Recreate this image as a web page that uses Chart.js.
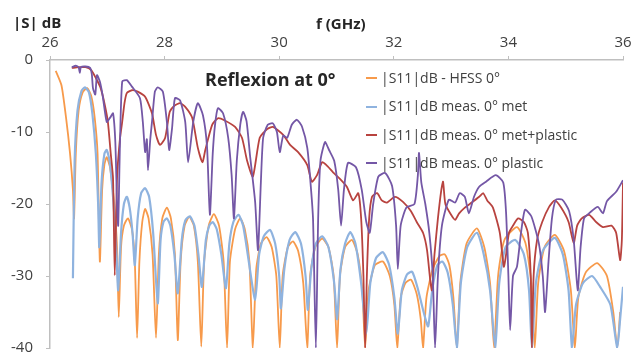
<!DOCTYPE html>
<html>
<head>
<meta charset="utf-8">
<script src="https://cdn.jsdelivr.net/npm/chart.js@4"></script>
<style>
  body { margin: 0; background: #fff; }
  #wrap { position: relative; width: 636px; height: 354px; font-family: "Open Sans", sans-serif; color: #404040; }
  #wrap canvas { position: absolute; left: 0; top: 0; }
  .lbl { position: absolute; white-space: nowrap; }
  .axt { font-weight: bold; font-size: 15px; color: #262626; }
  #title { left: 205px; top: 67px; font-weight: bold; font-size: 18px; color: #262626; }
  #legend { left: 366px; top: 64px; font-size: 14px; }
  #legend div { height: 28.4px; line-height: 28.4px; display: flex; align-items: center; }
  #legend i { display: inline-block; width: 11px; height: 2px; margin-right: 4px; }
</style>
</head>
<body>
<div id="wrap">
  <canvas id="c" width="636" height="354"></canvas>
  <div class="lbl axt" style="left:13px; top:12px;">|S| dB</div>
  <div class="lbl axt" style="left:316px; top:13px;">f (GHz)</div>
  <div class="lbl" id="title">Reflexion at 0°</div>
  <div class="lbl" id="legend"></div>
</div>
<script>
"use strict";

// ---- axis ticks ----
const xTicks = [26, 28, 30, 32, 34, 36];
const yTicks = [0, -10, -20, -30, -40];

// ---- |S11|dB - HFSS 0° ----
const hfssF = [26.10, 26.20, 26.28, 26.35, 26.40, 26.42, 26.45, 26.50, 26.57, 26.65, 26.72, 26.78, 26.83, 26.87, 26.91, 26.95, 26.99, 27.05, 27.12, 27.17, 27.20, 27.24, 27.29, 27.36, 27.43, 27.48, 27.52, 27.56, 27.61, 27.66, 27.72, 27.79, 27.85, 27.90, 27.96, 28.04, 28.11, 28.18, 28.23, 28.28, 28.35, 28.43, 28.51, 28.58, 28.64, 28.69, 28.77, 28.86, 28.95, 29.03, 29.09, 29.14, 29.23, 29.32, 29.40, 29.48, 29.54, 29.60, 29.68, 29.78, 29.87, 29.95, 30.01, 30.06, 30.15, 30.24, 30.33, 30.42, 30.49, 30.54, 30.63, 30.75, 30.86, 30.95, 31.01, 31.06, 31.15, 31.27, 31.37, 31.45, 31.50, 31.56, 31.67, 31.81, 31.93, 32.01, 32.06, 32.12, 32.20, 32.30, 32.40, 32.47, 32.51, 32.57, 32.68, 32.80, 32.89, 32.97, 33.04, 33.10, 33.16, 33.27, 33.45, 33.58, 33.68, 33.75, 33.82, 33.93, 34.15, 34.30, 34.40, 34.46, 34.52, 34.63, 34.81, 34.97, 35.09, 35.16, 35.22, 35.35, 35.55, 35.72, 35.83, 35.90, 35.95];
const hfssDb = [-1.5, -3.5, -8, -13, -18, -22, -13, -7, -4.5, -3.9, -5, -8, -13, -28, -18, -14.5, -13.5, -15, -20, -26, -35.7, -26, -23, -22, -23.5, -28, -38.6, -28, -22.5, -20.7, -22, -27, -38.6, -27, -22, -20.5, -22, -27, -38.9, -28, -23, -21.8, -23, -28, -39.8, -28, -23, -21.4, -23, -28, -40, -28, -23.5, -22, -23.5, -28, -40, -29, -25.5, -24.6, -26, -30, -40, -30, -26, -25.2, -26.5, -31, -40, -30, -26, -24.8, -26, -30, -40, -30, -26, -25, -27, -32, -40, -32, -28.5, -28, -30, -34, -40, -33, -31, -30.5, -32.5, -36, -40, -33, -29, -27.2, -27, -28.5, -33, -40, -31, -25.5, -23.4, -26, -31, -40, -30, -25, -23.2, -25.5, -31, -40, -31, -26, -24.3, -26.5, -32, -40, -33, -29.5, -28.2, -30, -35, -40, -35];

// ---- |S11|dB meas. 0° met ----
const metF = [26.40, 26.43, 26.48, 26.55, 26.61, 26.68, 26.74, 26.80, 26.84, 26.86, 26.90, 26.95, 26.99, 27.04, 27.10, 27.15, 27.19, 27.24, 27.29, 27.34, 27.39, 27.44, 27.48, 27.53, 27.59, 27.66, 27.73, 27.80, 27.88, 27.93, 27.98, 28.04, 28.10, 28.17, 28.23, 28.30, 28.36, 28.44, 28.52, 28.59, 28.65, 28.72, 28.78, 28.84, 28.91, 28.99, 29.07, 29.13, 29.20, 29.29, 29.37, 29.46, 29.58, 29.65, 29.73, 29.84, 29.93, 30.00, 30.03, 30.09, 30.18, 30.28, 30.38, 30.46, 30.50, 30.56, 30.64, 30.75, 30.86, 30.96, 31.01, 31.07, 31.15, 31.24, 31.33, 31.43, 31.52, 31.59, 31.69, 31.81, 31.92, 32.01, 32.07, 32.14, 32.23, 32.32, 32.41, 32.52, 32.60, 32.67, 32.76, 32.85, 32.94, 33.03, 33.10, 33.17, 33.28, 33.45, 33.57, 33.68, 33.77, 33.84, 33.95, 34.12, 34.27, 34.36, 34.41, 34.48, 34.60, 34.81, 34.95, 35.05, 35.11, 35.18, 35.30, 35.46, 35.60, 35.78, 35.90, 35.95, 36.00];
const metDb = [-30.3, -14, -7, -4.3, -3.8, -4.5, -7.5, -13, -20, -26, -17, -13, -12.5, -14, -19, -25, -32, -24, -20, -19, -20.5, -24, -28.5, -22, -18.5, -17.8, -19, -24, -33.8, -25, -22.5, -22, -23, -27, -32.4, -25, -22.3, -21.7, -23, -27, -31.5, -25, -23, -22.5, -23.5, -27, -31.7, -25.5, -22.5, -21.5, -23, -27.5, -33.3, -27, -24.5, -23.6, -25.5, -30, -34.5, -29, -25, -23.9, -25.5, -30, -34.7, -29, -25.5, -24.5, -26, -31, -36, -29, -25.5, -23.9, -25.5, -31, -38, -31, -27.5, -26.7, -28.5, -33, -38, -32, -29.8, -29.4, -31.5, -35, -37, -32, -28.5, -28, -29.5, -34, -40, -31, -26, -24, -27, -32, -40, -31, -26, -25, -27, -32, -40, -31, -26.5, -24.7, -27, -32, -40, -34, -31, -30, -31.5, -34, -40, -36, -31.5];

// ---- |S11|dB meas. 0° met+plastic ----
const mpF = [26.38, 26.50, 26.62, 26.72, 26.80, 26.88, 26.95, 27.01, 27.06, 27.10, 27.13, 27.17, 27.22, 27.26, 27.30, 27.34, 27.43, 27.53, 27.66, 27.78, 27.85, 27.92, 28.01, 28.09, 28.18, 28.27, 28.36, 28.48, 28.58, 28.66, 28.71, 28.83, 28.93, 29.05, 29.23, 29.35, 29.44, 29.54, 29.66, 29.79, 29.89, 30.07, 30.19, 30.33, 30.49, 30.57, 30.66, 30.75, 30.85, 30.94, 31.06, 31.18, 31.29, 31.38, 31.43, 31.47, 31.50, 31.53, 31.57, 31.62, 31.71, 31.79, 31.88, 32.02, 32.16, 32.30, 32.40, 32.51, 32.58, 32.66, 32.71, 32.77, 32.83, 32.86, 32.90, 33.00, 33.07, 33.14, 33.24, 33.36, 33.49, 33.56, 33.63, 33.73, 33.85, 33.92, 33.96, 34.01, 34.08, 34.17, 34.27, 34.34, 34.39, 34.41, 34.44, 34.50, 34.59, 34.71, 34.81, 34.92, 35.05, 35.14, 35.20, 35.28, 35.41, 35.53, 35.65, 35.80, 35.88, 35.95, 35.98, 36.00];
const mpDb = [-1.1, -1.0, -1.0, -1.4, -2.5, -3.8, -6, -8.6, -13, -16.4, -29.9, -16.4, -11, -8.6, -6, -4.6, -4.2, -4.4, -5.1, -7.4, -10.4, -11.8, -10.8, -7.2, -6.3, -6, -6.5, -8, -12.2, -14.2, -12.5, -9, -8.1, -8.4, -9.3, -10.8, -14, -16.2, -10.8, -9.6, -9.3, -10.4, -11.8, -12.8, -14.6, -16.9, -16, -14.2, -14.8, -15.6, -16.5, -17.6, -19.5, -18.5, -22, -30, -40, -30, -22, -19, -18.5, -19.5, -19.8, -19, -19.7, -21, -22.5, -24, -26.4, -32, -27, -22, -18, -16.9, -20, -21.5, -22.2, -21.3, -20.5, -19.8, -19, -18.5, -19.5, -20.5, -24, -28.7, -27, -24, -23, -22, -22.5, -24, -30, -40, -30, -25, -22.5, -20.4, -19.5, -20.5, -22.5, -25.4, -23, -22, -21.5, -22.5, -23.2, -23, -24, -27.8, -25, -17];

// ---- |S11|dB meas. 0° plastic ----
const plF = [26.38, 26.45, 26.50, 26.52, 26.54, 26.62, 26.70, 26.73, 26.75, 26.79, 26.82, 26.87, 26.92, 26.99, 27.05, 27.10, 27.14, 27.17, 27.19, 27.22, 27.26, 27.34, 27.43, 27.57, 27.62, 27.66, 27.69, 27.71, 27.75, 27.78, 27.83, 27.88, 27.97, 28.04, 28.08, 28.13, 28.18, 28.27, 28.36, 28.41, 28.50, 28.58, 28.67, 28.74, 28.79, 28.84, 28.88, 28.93, 29.02, 29.11, 29.17, 29.21, 29.26, 29.32, 29.37, 29.43, 29.49, 29.58, 29.63, 29.68, 29.72, 29.80, 29.89, 29.96, 30.01, 30.07, 30.14, 30.22, 30.31, 30.40, 30.49, 30.54, 30.59, 30.64, 30.68, 30.72, 30.80, 30.87, 30.96, 31.03, 31.08, 31.13, 31.20, 31.34, 31.44, 31.52, 31.58, 31.64, 31.73, 31.85, 31.97, 32.04, 32.07, 32.12, 32.22, 32.36, 32.42, 32.44, 32.48, 32.55, 32.62, 32.68, 32.72, 32.77, 32.84, 32.96, 33.07, 33.15, 33.24, 33.31, 33.40, 33.49, 33.61, 33.78, 33.91, 33.96, 34.00, 34.03, 34.08, 34.15, 34.22, 34.29, 34.40, 34.53, 34.60, 34.64, 34.70, 34.76, 34.83, 34.94, 35.06, 35.14, 35.21, 35.26, 35.32, 35.42, 35.56, 35.65, 35.72, 35.88, 36.00];
const plDb = [-1.0, -0.8, -1.0, -1.8, -1.0, -0.9, -1.1, -2, -3.9, -4.8, -2.1, -3, -5, -8.6, -8, -7.4, -11.4, -20, -23, -12, -3, -2.8, -3.7, -5.3, -8.6, -12.8, -11, -15.3, -11, -8.6, -4.4, -3.8, -4.4, -8.6, -12.5, -9.5, -5.3, -5.6, -8.6, -14.2, -8.6, -6, -7.7, -12, -21.5, -13, -9, -6.7, -7.4, -10.8, -16, -22, -14, -9, -7.2, -8.5, -13.2, -19.7, -26.4, -17, -10.8, -9, -8.8, -10, -12.8, -10.5, -10.8, -9, -8.3, -9.3, -12.2, -16.4, -22, -40, -22, -14, -11.4, -12.5, -14, -18, -23, -18, -14.3, -14.9, -18, -22.5, -24, -20, -16.2, -15.7, -17.5, -23, -29, -23, -20.5, -20, -16, -12.9, -17, -20, -24, -30, -40, -30, -23, -19.4, -19.8, -18.5, -19, -21.3, -19, -17.6, -16.9, -16, -17, -21.3, -30, -37.5, -30, -28.7, -24, -20.8, -21.7, -25.4, -30, -35, -28, -22, -19.4, -19.4, -21, -25, -32, -26, -22, -21.2, -20.4, -21.3, -19.6, -18.3, -16.7];

const FONT = '"Open Sans", sans-serif';
const pts = (fs, ds) => fs.map((f, i) => ({ x: f, y: ds[i] }));

const series = [
  { label: "|S11|dB - HFSS 0°", f: hfssF, d: hfssDb, color: "#F79A4B", width: 1.8, order: 4 },
  { label: "|S11|dB meas. 0° met", f: metF, d: metDb, color: "#8FB3DF", width: 2.2, order: 3 },
  { label: "|S11|dB meas. 0° met+plastic", f: mpF, d: mpDb, color: "#B8433F", width: 1.8, order: 2 },
  { label: "|S11|dB meas. 0° plastic", f: plF, d: plDb, color: "#7457A6", width: 1.8, order: 1 },
];

// html legend
const leg = document.getElementById("legend");
series.forEach((s) => {
  const row = document.createElement("div");
  row.innerHTML = `<i style="background:${s.color}"></i><span>${s.label}</span>`;
  leg.appendChild(row);
});

new Chart(document.getElementById("c"), {
  type: "line",
  data: {
    datasets: series.map((s) => ({
      label: s.label,
      data: pts(s.f, s.d),
      borderColor: s.color,
      borderWidth: s.width,
      pointRadius: 0,
      tension: 0.2,
      fill: false,
      order: s.order,
    })),
  },
  options: {
    responsive: false,
    animation: false,
    layout: { padding: { left: 0, top: 0, right: 13, bottom: 6 } },
    plugins: { legend: { display: false }, tooltip: { enabled: false } },
    scales: {
      x: {
        type: "linear", position: "top", min: 26, max: 36,
        afterBuildTicks: (s) => { s.ticks = xTicks.map((v) => ({ value: v })); },
        afterFit: (s) => { s.height = 60; s.paddingLeft = 0; s.paddingRight = 0; },
        ticks: { color: "#404040", font: { family: FONT, size: 15 }, padding: 4, maxRotation: 0 },
        grid: { drawOnChartArea: false, drawTicks: true, tickLength: 4, color: "#BFBFBF" },
        border: { color: "#BFBFBF", width: 1.5 },
      },
      y: {
        min: -40, max: 0,
        afterBuildTicks: (s) => { s.ticks = yTicks.map((v) => ({ value: v })); },
        afterFit: (s) => { s.width = 50; s.paddingTop = 0; s.paddingBottom = 0; },
        ticks: { color: "#404040", font: { family: FONT, size: 15 }, padding: 13 },
        grid: { drawOnChartArea: false, drawTicks: true, tickLength: 4, color: "#BFBFBF" },
        border: { color: "#BFBFBF", width: 1.5 },
      },
    },
  },
});
</script>
</body>
</html>
